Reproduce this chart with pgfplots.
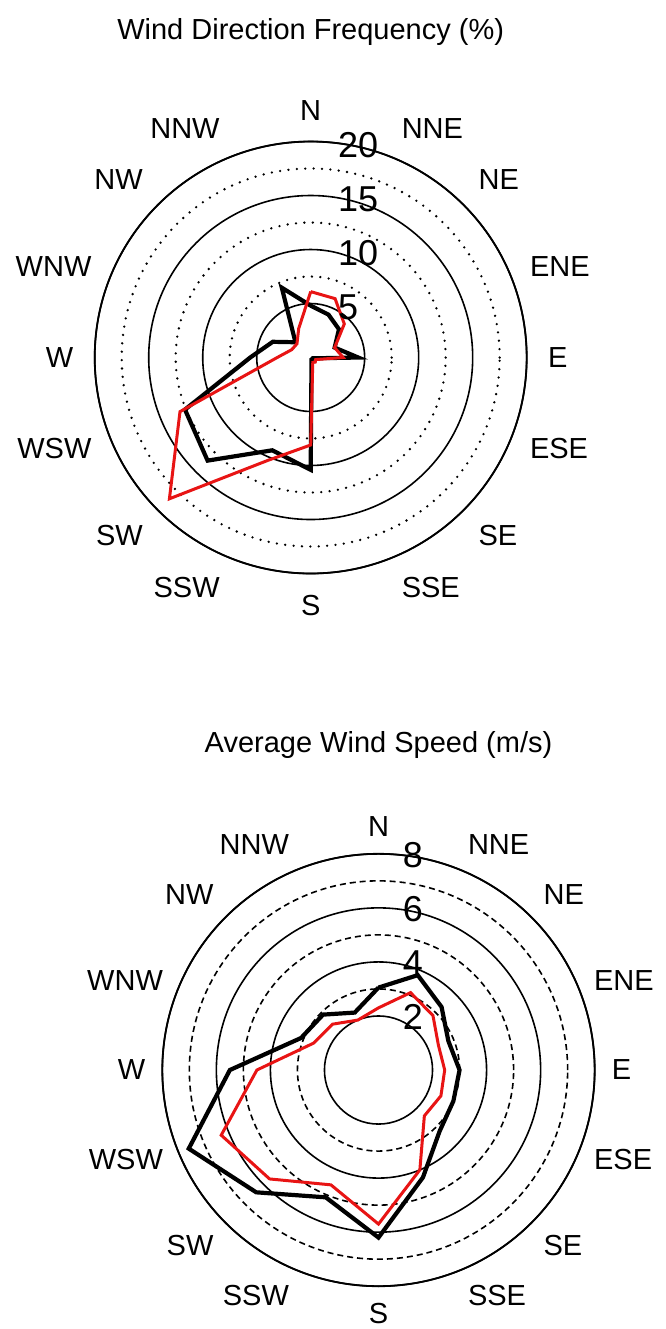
\documentclass[border=0pt]{standalone}
\usepackage{fontspec}
\setmainfont{Liberation Sans}
\usepackage{pgfplots}
\pgfplotsset{compat=1.18}
\usepackage{pgfplotstable}
\usepgfplotslibrary{polar}

\definecolor{mred}{RGB}{232,20,20}

% angle = 90 - compass bearing; first row repeated to close the rose
\pgfplotstableread{
angle blk red
90    4.8  6.1
67.5  4.3  5.9
45    3.7  4.4
22.5  2.4  2.4
0     4.4  3.0
337.5 0.2  0.5
315   0.2  0.6
292.5 0.2  0.5
270   10.4 8.1
247.5 9.3  10.3
225   13.5 18.5
202.5 12.6 13.1
180   5.6  3.1
157.5 3.8  1.9
135   2.0  1.8
112.5 7.0  2.9
90    4.8  6.1
}\freqdata

\pgfplotstableread{
angle blk red
90    3.05 2.3
67.5  3.8  3.1
45    3.3  2.85
22.5  2.8  2.4
0     3.0  2.45
337.5 3.0  2.5
315   3.2  2.4
292.5 4.3  4.0
270   6.2  5.7
247.5 5.1  4.6
225   6.4  5.7
202.5 7.6  6.3
180   5.5  4.5
157.5 3.1  2.6
135   2.9  2.4
112.5 2.3  2.0
90    3.05 2.3
}\speeddata

\tikzset{lbl/.style={inner sep=0pt, font=\fontsize{14.5}{17}\selectfont}}

\newcommand\dirlabels[1]{%
  \node[lbl, anchor=south]      at (axis cs:90,#1)    {N};
  \node[lbl, anchor=south west] at (axis cs:67.5,#1)  {NNE};
  \node[lbl, anchor=south west] at (axis cs:45,#1)    {NE};
  \node[lbl, anchor=west]       at (axis cs:22.5,#1)  {ENE};
  \node[lbl, anchor=west]       at (axis cs:0,#1)     {E};
  \node[lbl, anchor=west]       at (axis cs:337.5,#1) {ESE};
  \node[lbl, anchor=north west] at (axis cs:315,#1)   {SE};
  \node[lbl, anchor=north west] at (axis cs:292.5,#1) {SSE};
  \node[lbl, anchor=north]      at (axis cs:270,#1)   {S};
  \node[lbl, anchor=north east] at (axis cs:247.5,#1) {SSW};
  \node[lbl, anchor=north east] at (axis cs:225,#1)   {SW};
  \node[lbl, anchor=east]       at (axis cs:202.5,#1) {WSW};
  \node[lbl, anchor=east]       at (axis cs:180,#1)   {W};
  \node[lbl, anchor=east]       at (axis cs:157.5,#1) {WNW};
  \node[lbl, anchor=south east] at (axis cs:135,#1)   {NW};
  \node[lbl, anchor=south east] at (axis cs:112.5,#1) {NNW};
}

\pgfplotsset{rose/.style={
  scale only axis,
  xtick=\empty,
  yticklabel style={opacity=0},
  ymajorgrids, yminorgrids,
  major grid style={black, line width=0.8pt},
  axis line style={black, line width=0.9pt},
  y axis line style={draw=none},
  major tick length=0pt, minor tick length=0pt,
  clip=false,
  title style={at={(0.5,1.186)}, anchor=center, font=\fontsize{14.5}{17}\selectfont},
}}

\begin{document}
\begin{tikzpicture}
\useasboundingbox (0,0) rectangle (332.5pt,-664.5pt);

\begin{polaraxis}[rose,
  at={(155.35pt,-178.75pt)}, anchor=center,
  width=216pt, height=216pt,
  ymin=0, ymax=20,
  ytick={5,10,15,20}, minor ytick={7.5,12.5,17.5},
  minor grid style={black, line width=1.3pt, line cap=round, dash pattern=on 0pt off 4.2pt},
  title={Wind Direction Frequency (\%)},
]
\addplot[black, line width=2.1pt] table[x=angle, y=blk] {\freqdata};
\addplot[mred, line width=1.5pt] table[x=angle, y=red] {\freqdata};
\dirlabels{21.94}
\foreach \r in {5,10,15,20}{
  \edef\tmp{\noexpand\node[inner sep=0pt, anchor=west, xshift=13.5pt, yshift=-2pt,
    font=\noexpand\fontsize{18}{20}\noexpand\selectfont] at (axis cs:90,\r) {\r};}
  \tmp
}
\end{polaraxis}

\begin{polaraxis}[rose,
  at={(189.25pt,-535pt)}, anchor=center,
  width=216.2pt, height=216.2pt,
  ymin=0, ymax=8,
  ytick={2,4,6,8}, minor ytick={3,5,7},
  minor grid style={black, line width=0.8pt, dash pattern=on 3pt off 2pt},
  title={Average Wind Speed (m/s)},
]
\addplot[black, line width=2.1pt] table[x=angle, y=blk] {\speeddata};
\addplot[mred, line width=1.5pt] table[x=angle, y=red] {\speeddata};
\dirlabels{8.62}
\foreach \r in {2,4,6,8}{
  \edef\tmp{\noexpand\node[inner sep=0pt, anchor=west, xshift=12pt, yshift=-0.5pt,
    font=\noexpand\fontsize{18}{20}\noexpand\selectfont] at (axis cs:90,\r) {\r};}
  \tmp
}
\end{polaraxis}
\end{tikzpicture}
\end{document}
